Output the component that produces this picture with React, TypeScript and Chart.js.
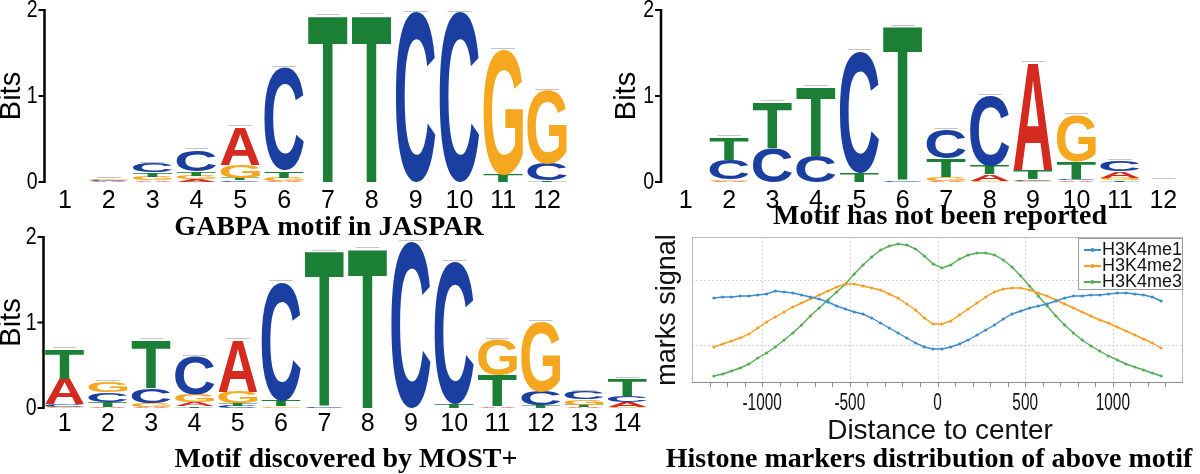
import React, { useEffect, useRef } from 'react';
import { Chart, registerables } from 'chart.js';

Chart.register(...registerables);

// ---------------- Data: sequence logos (bits per letter) ----------------
const jasparPositions = ['1', '2', '3', '4', '5', '6', '7', '8', '9', '10', '11', '12'];
const jasparA = [0, 0.01, 0.02, 0.035, 0.44, 0.01, 0, 0, 0, 0, 0, 0];
const jasparC = [0, 0.01, 0.10, 0.25, 0.02, 1.19, 0, 0, 1.97, 1.97, 0, 0.19];
const jasparG = [0, 0.01, 0.04, 0.04, 0.15, 0.04, 0, 0, 0, 0, 1.45, 0.85];
const jasparT = [0, 0.005, 0.05, 0.05, 0.03, 0.08, 1.93, 1.94, 0, 0, 0.09, 0.02];

const novelPositions = ['1', '2', '3', '4', '5', '6', '7', '8', '9', '10', '11', '12'];
const novelA = [0, 0.01, 0, 0, 0, 0, 0.01, 0.08, 1.25, 0.02, 0.08, 0.005];
const novelC = [0, 0.23, 0.40, 0.30, 1.41, 0.02, 0.34, 0.81, 0.02, 0.02, 0.12, 0.005];
const novelG = [0, 0.02, 0, 0, 0, 0, 0.05, 0.01, 0.01, 0.54, 0.03, 0.005];
const novelT = [0, 0.26, 0.53, 0.80, 0.11, 1.78, 0.21, 0.10, 0.10, 0.20, 0.02, 0.005];

const mostPositions = ['1', '2', '3', '4', '5', '6', '7', '8', '9', '10', '11', '12', '13', '14'];
const mostA = [0.30, 0.01, 0.01, 0.05, 0.61, 0, 0, 0, 0, 0, 0.02, 0, 0.01, 0.065];
const mostC = [0.03, 0.11, 0.17, 0.44, 0.025, 1.38, 0.02, 0, 1.94, 1.66, 0, 0.16, 0.09, 0.07];
const mostG = [0.01, 0.12, 0.05, 0.09, 0.13, 0.02, 0, 0, 0, 0, 0.41, 0.82, 0.06, 0.01];
const mostT = [0.35, 0.06, 0.56, 0.02, 0.03, 0.07, 1.81, 1.86, 0, 0.05, 0.36, 0.03, 0.03, 0.20];

const bitsTicks = [0, 1, 2];

// ---------------- Data: histone marks ----------------
const distance = [
  -1275, -1225, -1175, -1125, -1075, -1025, -975, -925, -875, -825, -775, -725, -675,
  -625, -575, -525, -475, -425, -375, -325, -275, -225, -175, -125, -75, -25,
  25, 75, 125, 175, 225, 275, 325, 375, 425, 475, 525, 575, 625,
  675, 725, 775, 825, 875, 925, 975, 1025, 1075, 1125, 1175, 1225, 1275,
];
const h3k4me1 = [
  102, 103, 103, 104, 104, 105, 106, 109, 108, 107, 105, 103, 101,
  98, 94, 91, 88, 86, 82, 77, 72, 67, 62, 57, 53, 51,
  51, 53, 56, 60, 65, 70, 75, 81, 86, 89, 92, 94, 96,
  99, 102, 104, 104, 105, 105, 106, 107, 107, 106, 105, 103, 99,
];
const h3k4me2 = [
  53, 56, 59, 62, 66, 72, 78, 83, 88, 93, 97, 101, 105,
  109, 113, 116, 116, 114, 112, 110, 106, 102, 96, 90, 82, 76,
  76, 79, 85, 91, 97, 103, 108, 111, 112, 112, 110, 107, 104,
  100, 96, 92, 88, 84, 80, 77, 73, 69, 65, 61, 57, 52,
];
const h3k4me3 = [
  24, 26, 29, 32, 36, 42, 47, 53, 60, 67, 75, 84, 92,
  100, 108, 116, 126, 135, 143, 150, 154, 156, 155, 151, 144, 136,
  132, 135, 141, 145, 147, 147, 145, 140, 133, 124, 114, 104, 94,
  84, 75, 67, 60, 54, 49, 44, 40, 36, 33, 30, 27, 24,
];
const seriesNames = ['H3K4me1', 'H3K4me2', 'H3K4me3'];
const distanceTickLabels = [-1000, -500, 0, 500, 1000];
const distanceMinorTicks = [
  -1300, -1200, -1100, -1000, -900, -800, -700, -600, -500, -400, -300, -200, -100,
  0, 100, 200, 300, 400, 500, 600, 700, 800, 900, 1000, 1100, 1200, 1300,
];
const signalGridLines = [55, 120];

// ---------------- Styles ----------------
const LETTER_COLORS: Record<string, string> = {
  A: '#d42a20',
  C: '#1b3fa0',
  G: '#f5a81f',
  T: '#1c7f36',
};
const SERIES_COLORS = ['#3d8bcb', '#f59e22', '#55ad55'];
const W = 1200;
const H = 474;
const SANS = '"Liberation Sans", Arial, Helvetica, sans-serif';
const SERIF = '"Liberation Serif", "Times New Roman", Times, serif';

function buildLogoDatasets(labels: string[], a: number[], c: number[], g: number[], t: number[]) {
  const letters = ['A', 'C', 'G', 'T'];
  const cols = labels.map((_, i) => {
    const vals = [a[i], c[i], g[i], t[i]];
    return letters.map((L, k) => ({ L, v: vals[k] })).sort((p, q) => p.v - q.v);
  });
  return [0, 1, 2, 3].map((r) => ({
    label: 'rank' + r,
    data: cols.map((col) => col[r].v),
    letters: cols.map((col) => col[r].L),
    backgroundColor: 'rgba(0,0,0,0)',
    borderWidth: 0,
    barPercentage: 0.9,
    categoryPercentage: 1,
    stack: 'logo',
  }));
}

function drawGlyph(ctx: CanvasRenderingContext2D, letter: string, left: number, top: number, w: number, h: number, color: string) {
  ctx.save();
  ctx.font = 'bold 200px ' + SANS;
  ctx.textAlign = 'left';
  ctx.textBaseline = 'alphabetic';
  const m = ctx.measureText(letter);
  const gw = m.actualBoundingBoxLeft + m.actualBoundingBoxRight;
  const gh = m.actualBoundingBoxAscent + m.actualBoundingBoxDescent;
  ctx.translate(left, top);
  ctx.scale(w / gw, h / gh);
  ctx.fillStyle = color;
  ctx.fillText(letter, m.actualBoundingBoxLeft, m.actualBoundingBoxAscent);
  ctx.restore();
}

const logoPlugin = {
  id: 'logoDeco',
  afterDatasetsDraw(chart: any, _args: any, o: any) {
    const ctx: CanvasRenderingContext2D = chart.ctx;
    const xs = chart.scales.x;
    const ys = chart.scales.y;
    const n = chart.data.labels.length;
    const tops: number[] = new Array(n).fill(Infinity);
    const bases: number[] = new Array(n).fill(-Infinity);
    const widths: number[] = new Array(n).fill(0);
    chart.data.datasets.forEach((ds: any, di: number) => {
      const meta = chart.getDatasetMeta(di);
      meta.data.forEach((el: any, i: number) => {
        const p = el.getProps(['x', 'y', 'base', 'width'], true);
        const h = p.base - p.y;
        tops[i] = Math.min(tops[i], p.y);
        bases[i] = Math.max(bases[i], p.base);
        widths[i] = p.width;
        if (h < 0.3) return;
        drawGlyph(ctx, ds.letters[i], p.x - p.width / 2, p.y, p.width, h, LETTER_COLORS[ds.letters[i]]);
      });
    });
    // small grey marks on top of each stack
    ctx.save();
    ctx.strokeStyle = '#c4c4c4';
    ctx.lineWidth = 1;
    for (let i = 0; i < n; i++) {
      if (!(bases[i] - tops[i] > 0.5)) continue;
      const cx = xs.getPixelForValue(i);
      const yy = Math.round(tops[i]) - 1.5;
      ctx.beginPath();
      ctx.moveTo(cx - widths[i] * 0.3, yy);
      ctx.lineTo(cx + widths[i] * 0.3, yy);
      ctx.stroke();
    }
    ctx.restore();

    // axis
    ctx.save();
    const y0 = ys.getPixelForValue(0);
    const y2 = ys.getPixelForValue(2);
    ctx.strokeStyle = '#000';
    ctx.lineWidth = 2.5;
    ctx.beginPath();
    ctx.moveTo(o.axisX, y0 + 1);
    ctx.lineTo(o.axisX, y2 - 1);
    ctx.stroke();
    ctx.lineWidth = 2;
    ctx.fillStyle = '#000';
    ctx.font = '23px ' + SANS;
    ctx.textAlign = 'right';
    ctx.textBaseline = 'middle';
    bitsTicks.forEach((v) => {
      const py = ys.getPixelForValue(v);
      ctx.beginPath();
      ctx.moveTo(o.axisX - 6, py);
      ctx.lineTo(o.axisX, py);
      ctx.stroke();
      drawCondensed(ctx, String(v), o.axisX - 7, py + 1, 0.85);
    });
    // x labels
    ctx.font = '25px ' + SANS;
    ctx.textAlign = 'center';
    chart.data.labels.forEach((lab: string, i: number) => {
      ctx.fillText(lab, xs.getPixelForValue(i), o.xLabelY);
    });
    // Bits
    ctx.save();
    ctx.translate(o.bitsX, (y0 + y2) / 2);
    ctx.rotate(-Math.PI / 2);
    ctx.font = '29px ' + SANS;
    ctx.textAlign = 'center';
    ctx.textBaseline = 'middle';
    ctx.fillText('Bits', 0, 0);
    ctx.restore();
    // title
    ctx.font = 'bold 28px ' + SERIF;
    ctx.textAlign = 'center';
    ctx.textBaseline = 'middle';
    ctx.fillText(o.title, o.titleX, o.titleY);
    ctx.restore();
  },
};

function drawCondensed(ctx: CanvasRenderingContext2D, text: string, x: number, y: number, sx: number) {
  ctx.save();
  ctx.translate(x, y);
  ctx.scale(sx, 1);
  ctx.fillText(text, 0, 0);
  ctx.restore();
}

const linePlugin = {
  id: 'lineDeco',
  beforeDatasetsDraw(chart: any, _args: any, o: any) {
    const ctx: CanvasRenderingContext2D = chart.ctx;
    const ca = chart.chartArea;
    const xs = chart.scales.x;
    const ys = chart.scales.y;
    ctx.save();
    ctx.lineWidth = 1;
    ctx.strokeStyle = '#d6d6d6';
    ctx.setLineDash([2, 2]);
    distanceTickLabels.forEach((v) => {
      const px = Math.round(xs.getPixelForValue(v)) + 0.5;
      ctx.beginPath();
      ctx.moveTo(px, ca.top);
      ctx.lineTo(px, ca.bottom);
      ctx.stroke();
    });
    signalGridLines.forEach((v) => {
      const py = Math.round(ys.getPixelForValue(v)) + 0.5;
      ctx.beginPath();
      ctx.moveTo(ca.left, py);
      ctx.lineTo(ca.right, py);
      ctx.stroke();
    });
    ctx.setLineDash([]);
    ctx.strokeStyle = '#b8b8b8';
    ctx.strokeRect(Math.round(ca.left) + 0.5, Math.round(ca.top) + 0.5, Math.round(ca.width) - 1, Math.round(ca.height) - 1);
    ctx.strokeStyle = '#8c8c8c';
    ctx.beginPath();
    ctx.moveTo(ca.left, Math.round(ca.bottom) - 0.5);
    ctx.lineTo(ca.right, Math.round(ca.bottom) - 0.5);
    ctx.stroke();
    distanceMinorTicks.forEach((v) => {
      const px = Math.round(xs.getPixelForValue(v)) + 0.5;
      ctx.beginPath();
      ctx.moveTo(px, ca.bottom);
      ctx.lineTo(px, ca.bottom + 4);
      ctx.stroke();
    });
    // tick labels
    ctx.fillStyle = '#111';
    ctx.font = '24px ' + SANS;
    ctx.textAlign = 'center';
    ctx.textBaseline = 'middle';
    distanceTickLabels.forEach((v) => {
      drawCondensed(ctx, String(v), xs.getPixelForValue(v), o.tickLabelY, 0.64);
    });
    // axis titles
    ctx.font = '28px ' + SANS;
    ctx.fillText('Distance to center', o.xTitleX, o.xTitleY);
    ctx.save();
    ctx.translate(o.yTitleX, (ca.top + ca.bottom) / 2);
    ctx.rotate(-Math.PI / 2);
    ctx.font = '27px ' + SANS;
    ctx.fillText('marks signal', 0, 0);
    ctx.restore();
    // title
    ctx.fillStyle = '#000';
    ctx.font = 'bold 28px ' + SERIF;
    ctx.fillText(o.title, o.titleX, o.titleY);
    ctx.restore();
  },
  afterDatasetsDraw(chart: any, _args: any, o: any) {
    const ctx: CanvasRenderingContext2D = chart.ctx;
    const lg = o.legend;
    ctx.save();
    ctx.fillStyle = '#fff';
    ctx.fillRect(lg.left, lg.top, lg.width, lg.height);
    ctx.strokeStyle = '#9a9a9a';
    ctx.lineWidth = 1;
    ctx.strokeRect(lg.left + 0.5, lg.top + 0.5, lg.width - 1, lg.height - 1);
    ctx.font = '18px ' + SANS;
    ctx.textAlign = 'left';
    ctx.textBaseline = 'middle';
    chart.data.datasets.forEach((ds: any, i: number) => {
      const yy = lg.top + lg.rowTop + i * lg.rowGap;
      ctx.strokeStyle = ds.borderColor;
      ctx.lineWidth = 2;
      ctx.beginPath();
      ctx.moveTo(lg.left + 6, yy);
      ctx.lineTo(lg.left + 23, yy);
      ctx.stroke();
      ctx.fillStyle = ds.borderColor;
      ctx.beginPath();
      ctx.arc(lg.left + 14.5, yy, 2, 0, Math.PI * 2);
      ctx.fill();
      ctx.fillStyle = '#111';
      ctx.fillText(ds.label, lg.left + 24, yy);
    });
    ctx.restore();
  },
};

function logoConfig(labels: string[], a: number[], c: number[], g: number[], t: number[], area: any, deco: any) {
  return {
    type: 'bar',
    data: { labels, datasets: buildLogoDatasets(labels, a, c, g, t) },
    options: {
      responsive: false,
      animation: false,
      events: [],
      layout: { padding: { left: area.left, top: area.top, right: W - area.right, bottom: H - area.bottom } },
      plugins: { legend: { display: false }, tooltip: { enabled: false }, title: { display: false }, logoDeco: deco },
      scales: {
        x: { display: false, stacked: true },
        y: { display: false, stacked: true, min: 0, max: 2 },
      },
    },
    plugins: [logoPlugin],
  };
}

function lineConfig() {
  const series = [h3k4me1, h3k4me2, h3k4me3];
  return {
    type: 'line',
    data: {
      datasets: series.map((vals, k) => ({
        label: seriesNames[k],
        data: distance.map((d, i) => ({ x: d, y: vals[i] })),
        borderColor: SERIES_COLORS[k],
        backgroundColor: SERIES_COLORS[k],
        pointBackgroundColor: SERIES_COLORS[k],
        pointBorderWidth: 0,
        pointRadius: 1.6,
        borderWidth: 1.4,
        tension: 0,
        fill: false,
      })),
    },
    options: {
      responsive: false,
      animation: false,
      events: [],
      layout: { padding: { left: 692, top: 237, right: W - 1183, bottom: H - 383 } },
      plugins: {
        legend: { display: false },
        tooltip: { enabled: false },
        lineDeco: {
          tickLabelY: 403,
          xTitleX: 940,
          xTitleY: 431,
          yTitleX: 668,
          title: 'Histone markers distribution of above motif',
          titleX: 929,
          titleY: 460,
          legend: { left: 1078, top: 238, width: 105, height: 52, rowTop: 12, rowGap: 16 },
        },
      },
      scales: {
        x: { type: 'linear', display: false, min: -1400, max: 1400 },
        y: { type: 'linear', display: false, min: 17, max: 163 },
      },
    },
    plugins: [linePlugin],
  };
}

export default function App() {
  const r1 = useRef<HTMLCanvasElement | null>(null);
  const r2 = useRef<HTMLCanvasElement | null>(null);
  const r3 = useRef<HTMLCanvasElement | null>(null);
  const r4 = useRef<HTMLCanvasElement | null>(null);

  useEffect(() => {
    const charts: Chart[] = [];
    charts.push(
      new Chart(
        r1.current as HTMLCanvasElement,
        logoConfig(jasparPositions, jasparA, jasparC, jasparG, jasparT,
          { left: 43, right: 569, top: 10, bottom: 182 },
          { axisX: 44.5, bitsX: 12, xLabelY: 201, title: 'GABPA motif in JASPAR', titleX: 329, titleY: 228 }) as any
      )
    );
    charts.push(
      new Chart(
        r2.current as HTMLCanvasElement,
        logoConfig(novelPositions, novelA, novelC, novelG, novelT,
          { left: 664, right: 1185, top: 10, bottom: 182 },
          { axisX: 661, bitsX: 627, xLabelY: 201, title: 'Motif has not been reported', titleX: 940, titleY: 217 }) as any
      )
    );
    charts.push(
      new Chart(
        r3.current as HTMLCanvasElement,
        logoConfig(mostPositions, mostA, mostC, mostG, mostT,
          { left: 43, right: 649, top: 237, bottom: 408 },
          { axisX: 43.5, bitsX: 12, xLabelY: 424, title: 'Motif discovered by MOST+', titleX: 346, titleY: 460 }) as any
      )
    );
    charts.push(new Chart(r4.current as HTMLCanvasElement, lineConfig() as any));
    return () => charts.forEach((c) => c.destroy());
  }, []);

  const cs: React.CSSProperties = { position: 'absolute', left: 0, top: 0, width: W, height: H };
  return (
    <div style={{ position: 'absolute', left: 0, top: 0, width: W, height: H, background: '#fff' }}>
      <canvas ref={r4} width={W} height={H} style={cs} />
      <canvas ref={r3} width={W} height={H} style={cs} />
      <canvas ref={r2} width={W} height={H} style={cs} />
      <canvas ref={r1} width={W} height={H} style={cs} />
    </div>
  );
}
